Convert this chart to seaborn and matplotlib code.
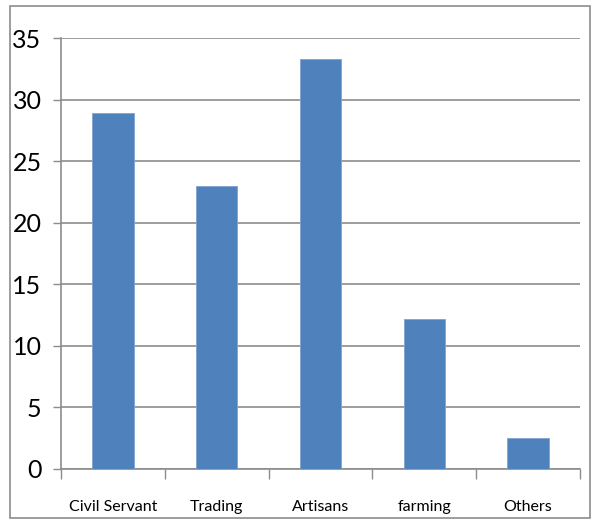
import matplotlib
matplotlib.use("Agg")
import matplotlib.pyplot as plt
import seaborn as sns
import pandas as pd
from matplotlib.patches import Rectangle

categories = ["Civil Servant", "Trading", "Artisans", "farming", "Others"]
values = [28.9, 23.0, 33.3, 12.2, 2.5]
yticks = [0, 5, 10, 15, 20, 25, 30, 35]

sns.set_theme(style="white")
plt.rcParams['font.family'] = ['Liberation Sans Narrow', 'Lato', 'DejaVu Sans']

df = pd.DataFrame({"cat": categories, "val": values})

fig = plt.figure(figsize=(5.96, 5.25), dpi=100)
ax = fig.add_axes([61/596, 1-469/525, (580-61)/596, (469-38)/525])

sns.barplot(data=df, x="cat", y="val", color="#4F81BD", saturation=1, width=0.4,
            edgecolor="#7FA3D1", linewidth=0.6, ax=ax, zorder=3)

ax.set_ylim(0, 35)
ax.set_xlim(-0.5, len(categories) - 0.5)
ax.set_yticks(yticks)
ax.set_yticklabels([str(t) for t in yticks], fontsize=18, color="black")
ax.set_xlabel("")
ax.set_ylabel("")
ax.set_xticks(list(range(len(categories))))
ax.set_xticklabels(categories, fontsize=11.5, color="black")
ax.tick_params(axis='x', which='major', pad=22, length=0)
ax.tick_params(axis='y', direction='out', length=6, width=1, color="#8C8C8C", pad=8, left=True)
ax.yaxis.grid(True, color="#8C8C8C", linewidth=1.2, zorder=0)
ax.set_axisbelow(True)
for s in ["top", "right"]:
    ax.spines[s].set_visible(False)
ax.spines["left"].set_color("#8C8C8C")
ax.spines["bottom"].set_color("#8C8C8C")
ax.spines["left"].set_linewidth(1.2)
ax.spines["bottom"].set_linewidth(1.2)

# x category boundary ticks
ax.set_xticks([i + 0.5 for i in range(-1, len(categories))], minor=True)
ax.tick_params(axis='x', which='minor', direction='out', length=7, width=1, color="#8C8C8C", bottom=True)

fig.patches.append(Rectangle((10/596, 1-518/525), 580/596, 512/525, transform=fig.transFigure,
                             fill=False, edgecolor="#8C8C8C", linewidth=1.2))

fig.savefig("out.png", dpi=100)
